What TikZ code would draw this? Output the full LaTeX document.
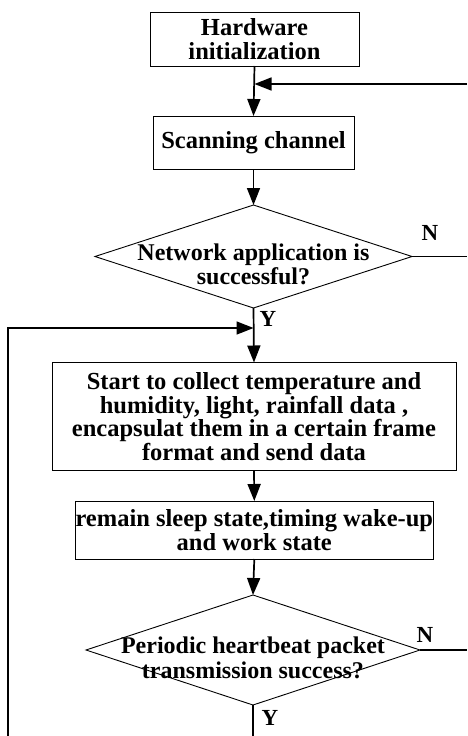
\documentclass[tikz,border=0pt]{standalone}
\usepackage{fontspec}
\setmainfont{Liberation Serif}
\usetikzlibrary{shapes.geometric,arrows.meta}

\tikzset{
  box/.style={draw, line width=0.9pt, outer sep=0pt, inner sep=0pt, align=center,
    font=\fontsize{24.5}{23.5}\selectfont\bfseries},
  decision/.style={draw, diamond, line width=0.9pt, outer sep=0pt, inner sep=0pt},
  dtext/.style={align=center, font=\fontsize{24}{24.5}\selectfont\bfseries},
  flow/.style={line width=1.7pt, -{Triangle[length=17pt,width=13pt]}},
  plain/.style={line width=1.7pt},
  yn/.style={font=\fontsize{23}{23}\selectfont\bfseries}
}

\begin{document}
\begin{tikzpicture}[x=1pt,y=-1pt]
                \useasboundingbox (0,0) rectangle (467,736);

                % Draw steps
                \node[box, minimum width=209pt, minimum height=54pt] (hw) at (254.5,39) {Hardware\\initialization};
                \node[box, minimum width=201pt, minimum height=53pt] (scan) at (253.5,142.5) {Scanning channel};
                \node[decision, minimum width=317pt, minimum height=103pt,
                      label={[dtext, yshift=-8pt]center:Network application is\\successful?}] (net) at (253.5,256.5) {};
                \node[box, minimum width=404pt, minimum height=108pt] (collect) at (254,416.5)
                    {Start to collect temperature and\\humidity, light, rainfall data ,\\encapsulat them in a certain frame\\format and send data};
                \node[box, minimum width=357pt, minimum height=58pt] (sleep) at (254.3,530)
                    {remain sleep state,timing wake-up\\and work state};
                \node[decision, minimum width=334pt, minimum height=110pt,
                      label={[dtext, yshift=-8pt]center:Periodic heartbeat packet\\transmission success?}] (beat) at (253,650) {};

                % Loop ends at the picture edges
                \coordinate (backin) at (467,84);
                \coordinate (join1) at (hw.south |- backin);
                \coordinate (netout) at (467,256.5);
                \coordinate (loopin) at (8,328);
                \coordinate (join2) at (net.south |- loopin);
                \coordinate (loopbot) at (8,736);
                \coordinate (beatout) at (467,650);
                \coordinate (beatbot) at (beat.south |- loopbot);

                % Draw connectors
                \draw[flow] (hw.south) -- (scan.north);
                \draw[flow] (backin) -- (join1);
                \draw[flow] (scan.south) -- (net.north);
                \draw[plain] (net.east) -- (netout);
                \draw[flow] (net.south) -- (collect.north);
                \draw[flow] (loopbot) -- (loopin) -- (join2);
                \draw[flow] (collect.south) -- (sleep.north);
                \draw[flow] (sleep.south) -- (beat.north);
                \draw[plain] (beat.east) -- (beatout);
                \draw[plain] (beat.south) -- (beatbot);

                % Mark the branches
                \node[yn] (n1) at (430,233) {N};
                \node[yn] (y1) at (268,319) {Y};
                \node[yn] (n2) at (425,635) {N};
                \node[yn] (y2) at (270,718) {Y};
\end{tikzpicture}
\end{document}
